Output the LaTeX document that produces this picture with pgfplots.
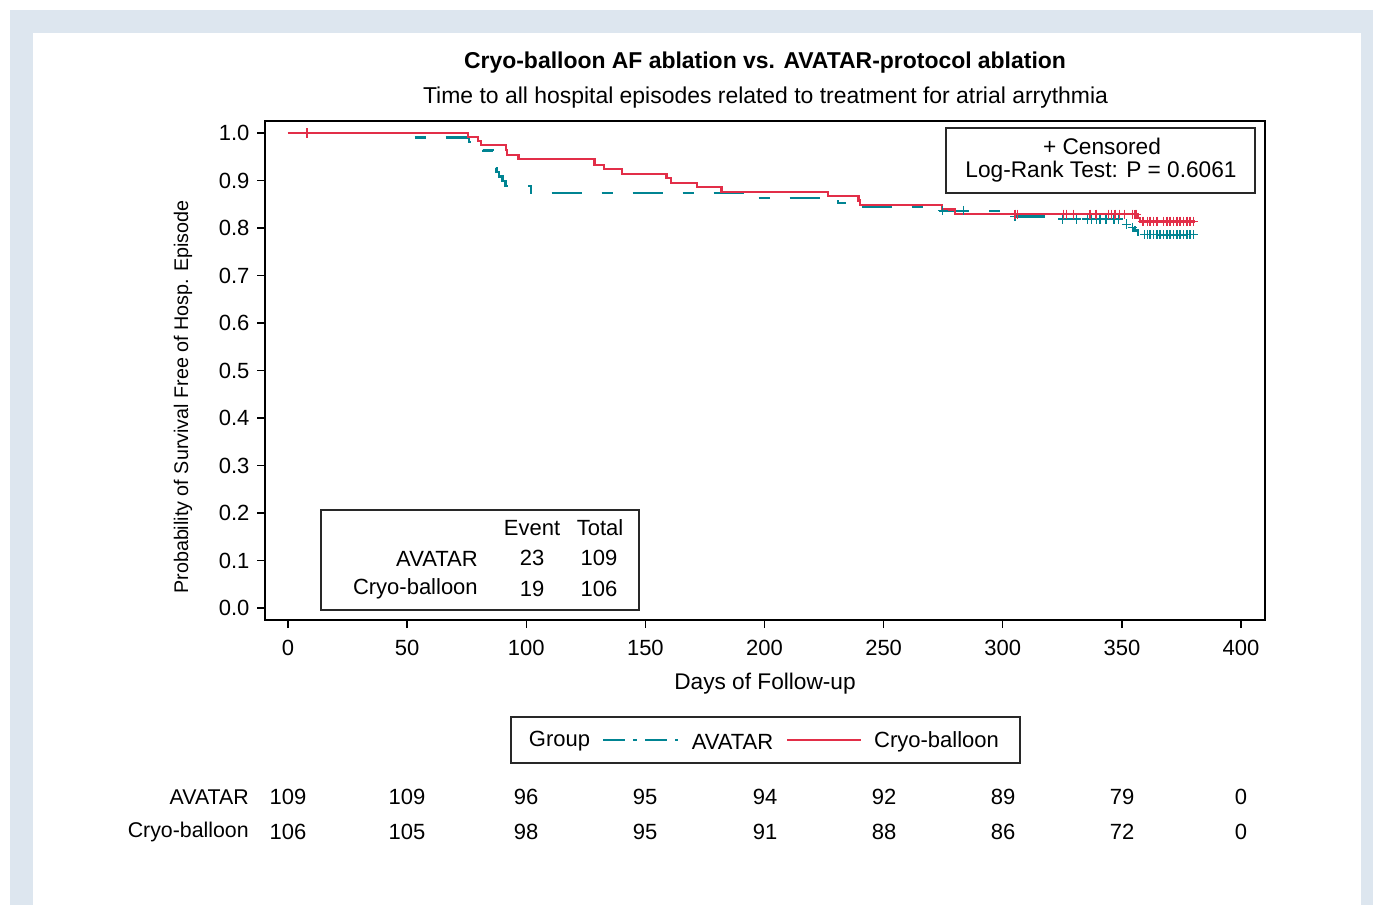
\documentclass[border=0pt]{standalone}
\usepackage{pgfplots}
\pgfplotsset{compat=1.18}
\usepackage{fontspec}
\setmainfont{Liberation Sans}
\definecolor{kmred}{RGB}{226,46,72}
\definecolor{kmteal}{RGB}{0,132,146}
\definecolor{bandblue}{RGB}{221,230,239}
\definecolor{boxgray}{RGB}{40,40,40}
\begin{document}
\fontsize{16.5}{19}\selectfont
\begin{tikzpicture}
\useasboundingbox (0pt,0pt) rectangle (1029.75pt,-678.75pt);
\fill[white] (0pt,0pt) rectangle (1029.75pt,-678.75pt);
\fill[bandblue] (7.5pt,-7.5pt) rectangle (1029.75pt,-678.75pt);
\fill[white] (24.75pt,-24.75pt) rectangle (1020.75pt,-678.75pt);
\begin{axis}[
  at={(198.75pt,-465pt)}, anchor=south west,
  scale only axis, width=750pt, height=374.25pt,
  xmin=-9.65, xmax=410.07, ymin=-0.0253, ymax=1.0253,
  xtick={0,50,...,400}, ytick={0,0.1,0.2,0.3,0.4,0.5,0.6,0.7,0.8,0.9,1.0},
  xtick pos=bottom, ytick pos=left,
  tick align=outside, major tick length=6pt,
  axis line style={black, line width=1pt},
  every tick/.style={black, line width=1pt},
  yticklabel style={/pgf/number format/fixed, /pgf/number format/fixed zerofill, /pgf/number format/precision=1},
  xticklabel style={yshift=-3.5pt},
  every tick label/.append style={/pgf/number format/assume math mode=true, font=\fontsize{16.5}{19}\selectfont},
  xlabel={Days of Follow-up},
  ylabel={Probability of Survival Free of Hosp. Episode},
  xlabel style={at={(axis description cs:0.5,-0.128)}, anchor=center, font=\fontsize{17}{20}\selectfont},
  ylabel style={at={(axis description cs:-0.082,0.447)}, anchor=center, font=\fontsize{14.8}{18}\selectfont},
  clip=false,
]
% AVATAR
\addplot[const plot, kmteal, line width=1.7pt, dash pattern=on 22.5pt off 15pt on 8.25pt off 15pt] coordinates {
(0,1) (53.0,0.9908) (76,0.9817) (80,0.9725) (82,0.9633) (86.0,0.9266) (87.5,0.9174) (88.6,0.9083) (90.0,0.8991) (91.3,0.8885) (102,0.873) (193,0.8625) (230.8,0.852) (239,0.8436) (268,0.8365) (300,0.8245) (320,0.819) (351.0,0.808) (353.7,0.801) (355.3,0.795) (356.8,0.786) (380.7,0.786)
};
\addplot[only marks, mark=+, mark size=3.6pt, kmteal, mark options={line width=0.9pt}] coordinates {
(274.8,0.8365) (283.4,0.8365) (305.1,0.8245) (325.2,0.819) (331.0,0.819) (335.4,0.819) (337.3,0.819) (339.4,0.819) (340.8,0.819) (343.3,0.819) (346.7,0.819) (348.5,0.819) (352.0,0.808) (354.5,0.801)
(359.6,0.786) (360.9,0.786) (361.8,0.786) (363.1,0.786) (364.7,0.786) (366.0,0.786) (367.3,0.786) (368.9,0.786) (370.2,0.786) (371.5,0.786) (373.1,0.786) (374.4,0.786) (375.7,0.786) (377.3,0.786) (378.6,0.786) (379.9,0.786)
};
% Cryo-balloon
\addplot[const plot, kmred, line width=1.7pt] coordinates {
(0,1) (75.7,0.9909) (79.9,0.9825) (81.0,0.9741) (91.4,0.9642) (91.8,0.9543) (96.7,0.9446) (128.6,0.9333) (132.6,0.9242) (140.3,0.9137) (158.9,0.9046) (160.6,0.8954) (171.8,0.8863) (182.0,0.8758) (226.8,0.8680) (239.4,0.8579) (240.1,0.8478) (274.4,0.8389) (280.0,0.8288) (356.5,0.8211) (357.6,0.8137) (380.7,0.8137)
};
\addplot[only marks, mark=+, mark size=3.6pt, kmred, mark options={line width=0.9pt}] coordinates {
(8.0,1) (305.1,0.8288) (306.1,0.8288) (325.4,0.8288) (326.8,0.8288) (329.6,0.8288) (336.6,0.8288) (339.1,0.8288) (344.3,0.8288) (345.7,0.8288) (347.1,0.8288) (348.9,0.8288) (351.0,0.8288) (354.5,0.8288) (355.5,0.8288) (356.2,0.8288)
(358.9,0.8137) (360.6,0.8137) (361.8,0.8137) (363.1,0.8137) (364.7,0.8137) (367.3,0.8137) (368.9,0.8137) (370.2,0.8137) (371.5,0.8137) (373.1,0.8137) (374.4,0.8137) (375.7,0.8137) (377.3,0.8137) (378.6,0.8137) (379.9,0.8137)
};
\end{axis}
\begin{scope}[x=0.75pt,y=-0.75pt]
\node[font=\fontsize{17.2}{20}\selectfont\bfseries] at (765,63) {Cryo-balloon AF ablation vs. AVATAR-protocol ablation};
\node[font=\fontsize{17.2}{20}\selectfont] at (765.5,98) {Time to all hospital episodes related to treatment for atrial arrythmia};
% censored box
\fill[white] (946,128) rectangle (1255,193);
\draw[boxgray, line width=0.9pt] (946,128) rectangle (1255,193);
\node[font=\fontsize{17}{20}\selectfont] at (1102,146) {+ Censored};
\node[font=\fontsize{17}{20}\selectfont] at (1101,172) {Log-Rank Test: P = 0.6061};
% inset table
\fill[white] (321,510) rectangle (639,610);
\draw[boxgray, line width=0.9pt] (321,510) rectangle (639,610);
\node at (532,528) {Event};
\node at (600,528) {Total};
\node[anchor=east, inner sep=0pt] at (478,559) {AVATAR};
\node[anchor=east, inner sep=0pt] at (478,589) {Cryo-balloon};
\node at (532,558) {23};
\node at (599,558) {109};
\node at (532,589) {19};
\node at (599,589) {106};
% legend
\draw[boxgray, line width=0.9pt] (511,717) rectangle (1020,763);
\node at (559.5,741.5) {Group};
\draw[kmteal, line width=1.5pt, dash pattern=on 16.5pt off 6pt on 3pt off 6pt] (603,740) -- (678,740);
\node at (732.5,741.5) {AVATAR};
\draw[kmred, line width=1.5pt] (787,740) -- (861,740);
\node at (936.5,741.5) {Cryo-balloon};
% at risk
\node[anchor=east, inner sep=0pt, font=\fontsize{16}{19}\selectfont] at (249,797) {AVATAR};
\node[anchor=east, inner sep=0pt, font=\fontsize{16}{19}\selectfont] at (249,832) {Cryo-balloon};
\foreach \xx/\a/\b in {288/109/106, 407/109/105, 526/96/98, 645/95/95, 765/94/91, 884/92/88, 1003/89/86, 1122/79/72, 1241/0/0} {
  \node at (\xx,797) {\a};
  \node at (\xx,832) {\b};
}
\end{scope}
\end{tikzpicture}
\end{document}
